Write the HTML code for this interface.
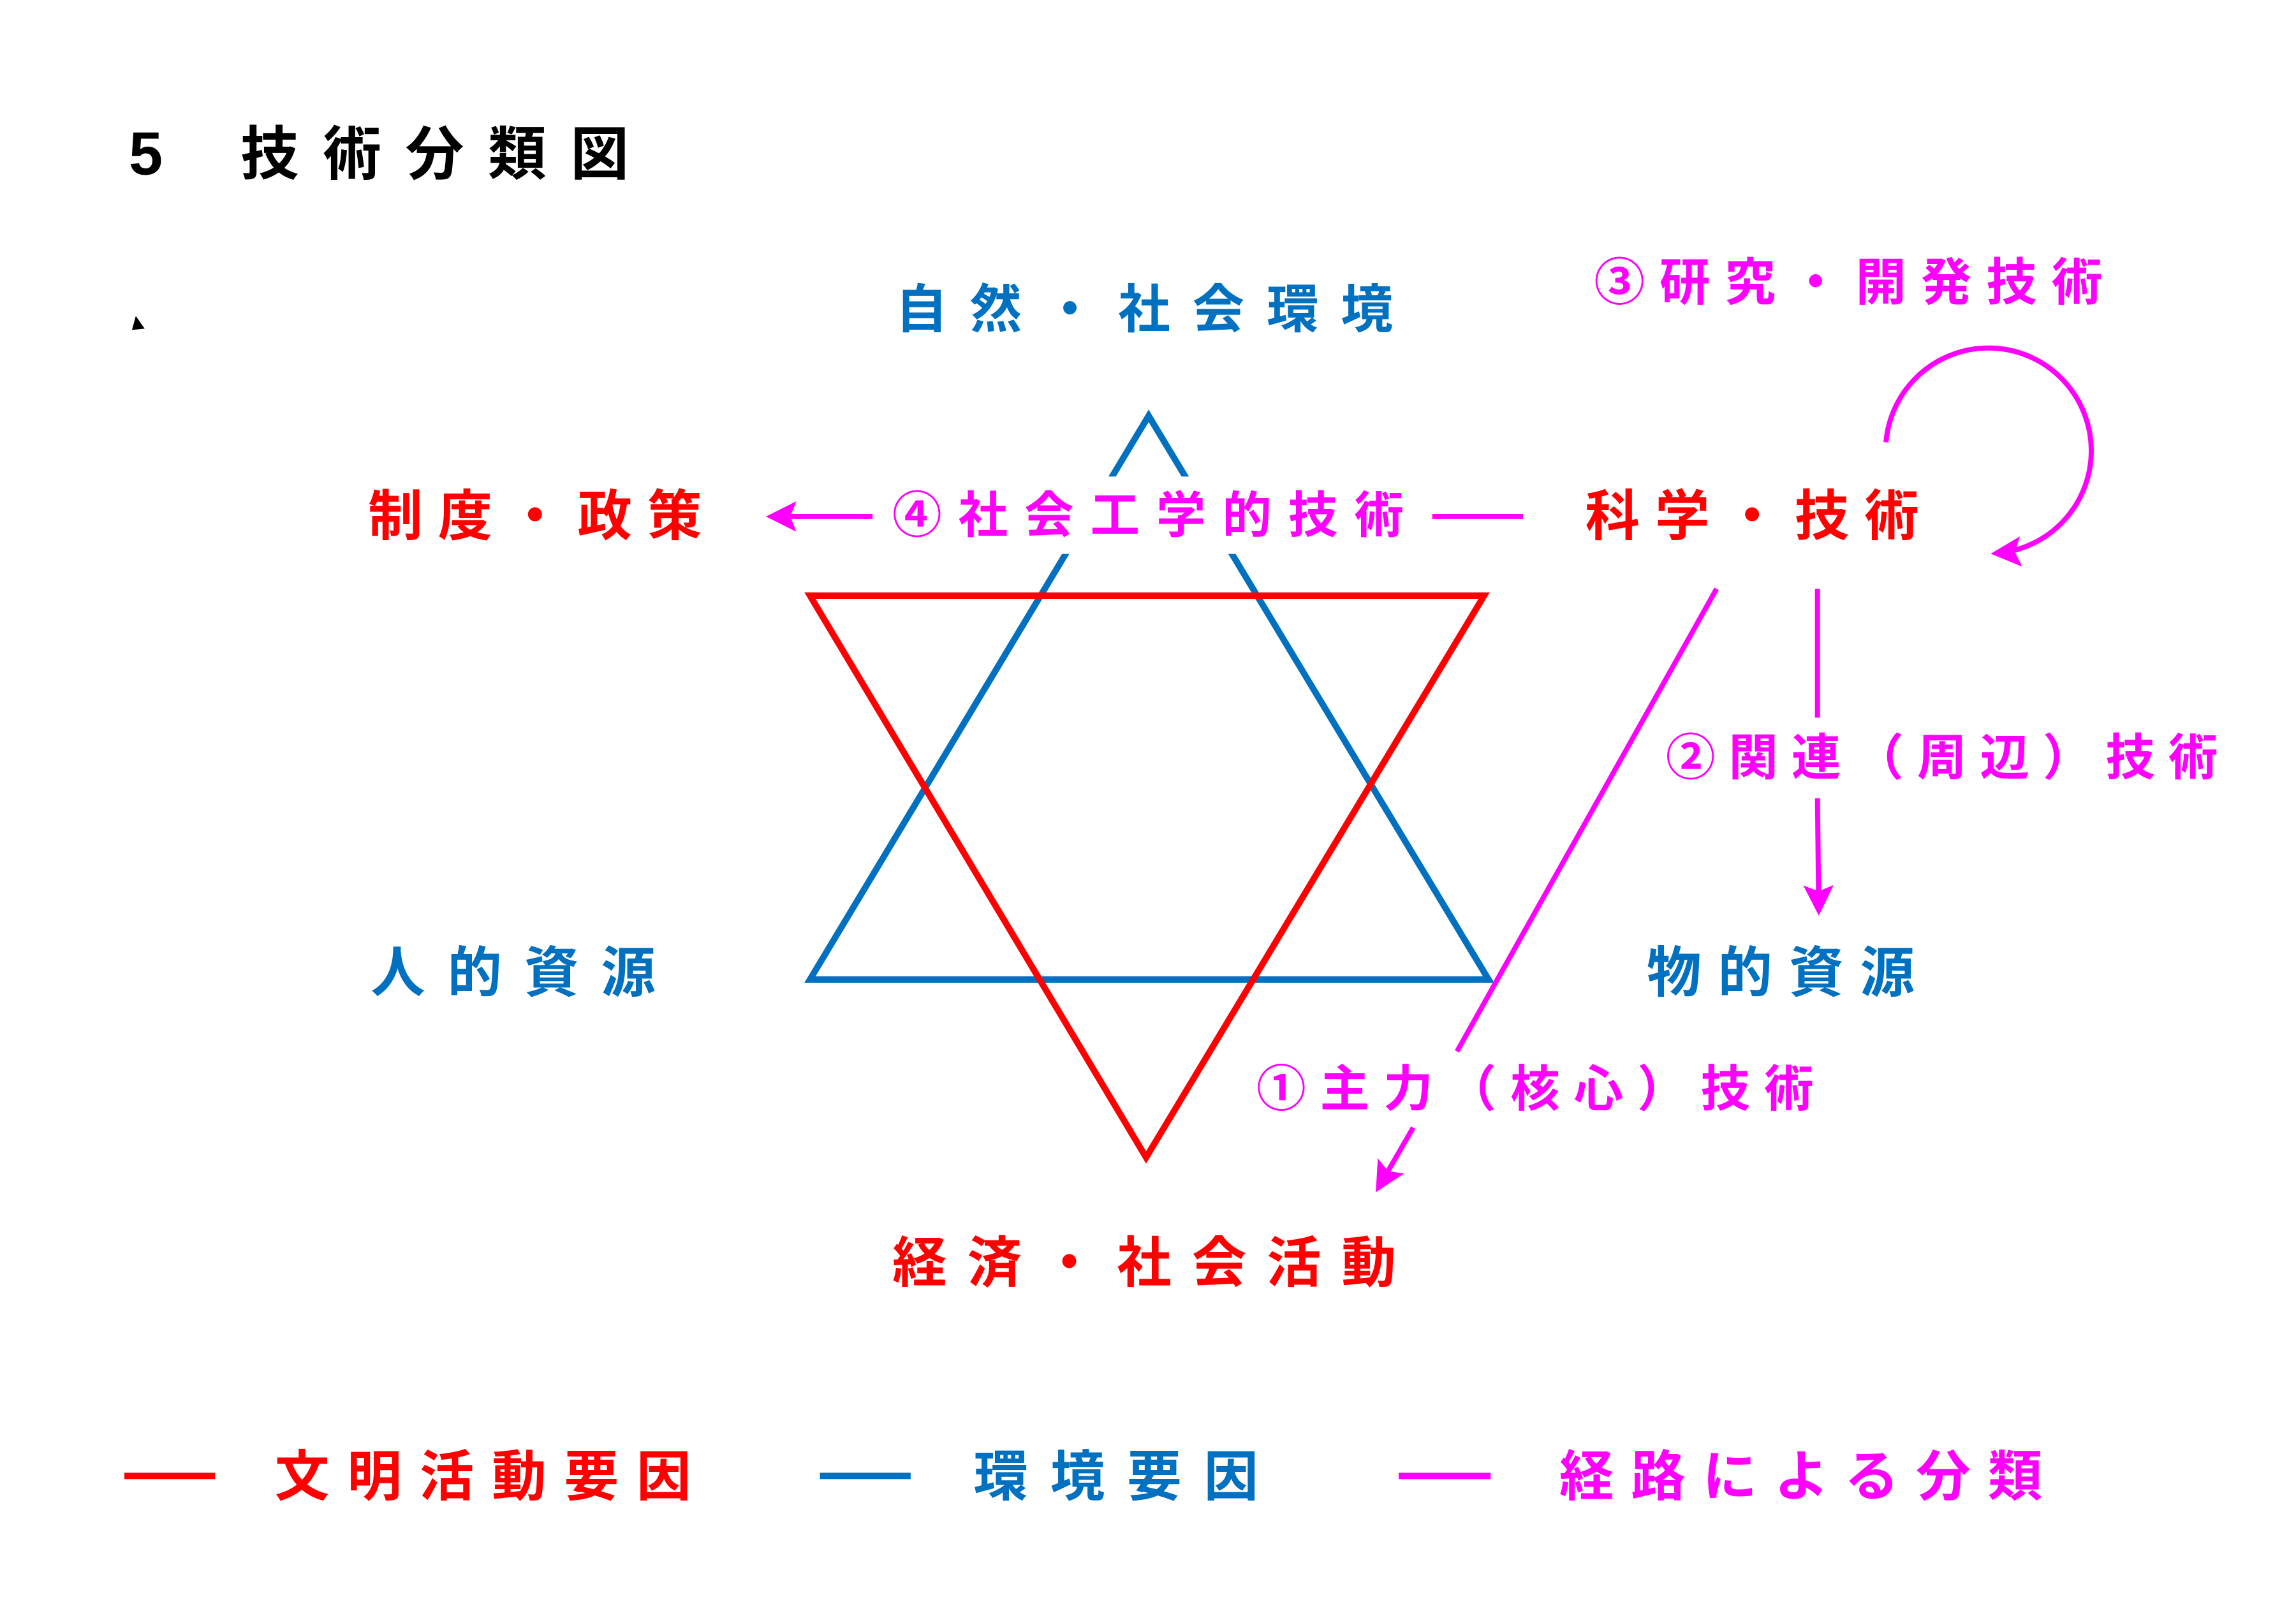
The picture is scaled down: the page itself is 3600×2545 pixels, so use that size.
<!DOCTYPE html>
<html><head><meta charset="utf-8"><style>
html,body{margin:0;padding:0;background:#fff}
svg{display:block}
text{font-family:"Liberation Sans","Noto Sans CJK JP",sans-serif;font-weight:bold}
</style></head><body>
<svg width="3600" height="2545" viewBox="0 0 3600 2545" xmlns="http://www.w3.org/2000/svg">
<defs>
<marker id="ah" markerWidth="6" markerHeight="6" refX="5" refY="3" orient="auto" markerUnits="strokeWidth">
<path d="M0,0 L6,3 L0,6 L1.2,3 Z" fill="#ff00ff"/>
</marker>
</defs>
<polygon points="1801,652 1270,1536 2334,1536" fill="none" stroke="#0070c0" stroke-width="10"/>
<polygon points="1270,934 2327,934 1797,1815" fill="none" stroke="#ff0000" stroke-width="10"/>
<g transform="scale(0.995)">
<text x="203" y="275" font-size="96" fill="#000">5</text>
<text x="379" y="275" font-size="92" fill="#000" letter-spacing="38">技術分類図</text>
<path d="M214,498 L228,518 L208,520 Z" fill="#000"/>

<rect x="1395" y="751" width="830" height="122" fill="#fff"/>

<text x="1411" y="516" font-size="82" fill="#0070c0" letter-spacing="35">自然・社会環境</text>
<text x="2512" y="473" font-size="80" fill="#ff00ff" letter-spacing="23">③研究・開発技術</text>
<text x="580" y="843" font-size="86" fill="#ff0000" letter-spacing="24">制度・政策</text>
<text x="1406" y="839" font-size="78" fill="#ff00ff" letter-spacing="26">④社会工学的技術</text>
<text x="2498" y="843" font-size="86" fill="#ff0000" letter-spacing="24">科学・技術</text>
<text x="2625" y="1221" font-size="78" fill="#ff00ff" letter-spacing="21">②関連（周辺）技術</text>
<text x="584" y="1563" font-size="86" fill="#0070c0" letter-spacing="35">人的資源</text>
<text x="2595" y="1563" font-size="86" fill="#0070c0" letter-spacing="26">物的資源</text>
<text x="1980" y="1743" font-size="78" fill="#ff00ff" letter-spacing="22">①主力（核心）技術</text>
<text x="1406" y="2020" font-size="86" fill="#ff0000" letter-spacing="32">経済・社会活動</text>

<line x1="1375" y1="814" x2="1215" y2="814" stroke="#ff00ff" stroke-width="8" marker-end="url(#ah)"/>
<line x1="2257" y1="814" x2="2400" y2="814" stroke="#ff00ff" stroke-width="8"/>
<path d="M2972,697 A162,162 0 1 1 3145,872" fill="none" stroke="#ff00ff" stroke-width="8" marker-end="url(#ah)"/>
<line x1="2864" y1="928" x2="2864" y2="1131" stroke="#ff00ff" stroke-width="8"/>
<line x1="2864" y1="1258" x2="2866" y2="1435" stroke="#ff00ff" stroke-width="8" marker-end="url(#ah)"/>
<line x1="2705" y1="928" x2="2296" y2="1657" stroke="#ff00ff" stroke-width="8"/>
<line x1="2227" y1="1777" x2="2172" y2="1872" stroke="#ff00ff" stroke-width="8" marker-end="url(#ah)"/>

<line x1="196" y1="2326" x2="339" y2="2326" stroke="#ff0000" stroke-width="10"/>
<text x="433" y="2357" font-size="86" fill="#ff0000" letter-spacing="28">文明活動要因</text>
<line x1="1292" y1="2326" x2="1435" y2="2326" stroke="#0070c0" stroke-width="10"/>
<text x="1534" y="2357" font-size="86" fill="#0070c0" letter-spacing="35">環境要因</text>
<line x1="2204" y1="2326" x2="2349" y2="2326" stroke="#ff00ff" stroke-width="10"/>
<text x="2457" y="2357" font-size="86" fill="#ff00ff" letter-spacing="27">経路による分類</text>
</g>
</svg>
</body></html>
